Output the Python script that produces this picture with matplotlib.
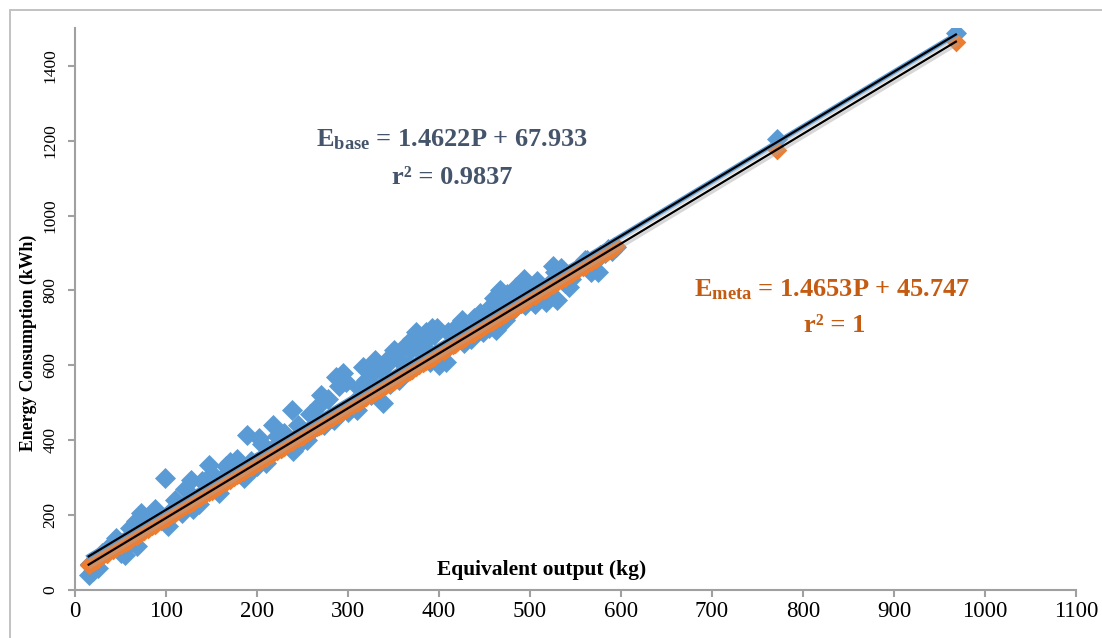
import matplotlib
matplotlib.use("Agg")
import matplotlib.pyplot as plt
import matplotlib.patheffects as pe
from matplotlib.patches import Rectangle

# ---------------- data ----------------
output_kg = [15, 17, 20, 22, 25, 30, 35, 42, 50, 55, 60, 63, 67, 68, 73, 76, 80, 85, 90, 95,
             99, 102, 106, 112, 118, 121, 125, 128, 132, 136, 140, 143, 147, 150, 155, 158, 162, 166, 170, 175,
             180, 186, 189, 193, 197, 202, 206, 210, 215, 218, 222, 226, 230, 234, 238, 240, 245, 250, 255, 258,
             262, 266, 270, 274, 278, 282, 287, 290, 295, 300, 305, 310, 316, 320, 325, 330, 335, 338, 342, 346,
             350, 354, 358, 362, 366, 370, 375, 378, 382, 386, 390, 394, 398, 400, 405, 410, 415, 420, 425, 430,
             435, 440, 445, 450, 455, 460, 463, 467, 470, 475, 480, 485, 490, 493, 497, 500, 505, 510, 515, 520,
             525, 530, 534, 538, 543, 548, 553, 558, 563, 567, 572, 577, 582, 586, 590, 595,
             45, 58, 88, 110, 130, 152, 178, 200, 228, 248, 268, 285, 298, 312, 328, 345, 356, 368,
             384, 392, 408, 418, 428, 438, 448, 458, 472, 482, 495, 508, 518, 528, 545, 560, 575, 592,
             771, 968]

energy_base = [40, 70, 50, 62, 58, 100, 110, 125, 100, 93, 165, 140, 185, 118, 205, 195, 170, 185, 195, 190,
               298, 170, 210, 225, 205, 270, 230, 295, 240, 230, 290, 260, 335, 310, 275, 260, 300, 330, 342, 310,
               320, 300, 415, 345, 325, 405, 390, 340, 375, 440, 410, 380, 420, 395, 480, 370, 440, 425, 400, 470,
               430, 455, 520, 440, 510, 460, 570, 545, 580, 475, 500, 480, 595, 560, 520, 615, 590, 498, 600, 550,
               640, 620, 580, 650, 600, 670, 690, 640, 660, 690, 610, 680, 700, 600, 640, 690, 660, 700, 720, 680,
               670, 700, 740, 720, 700, 780, 695, 800, 760, 790, 745, 810, 770, 830, 800, 780, 765, 800, 790, 815,
               865, 775, 860, 820, 810, 850, 860, 870, 880, 850, 880, 895, 900, 910, 905, 915,
               140, 120, 215, 240, 215, 300, 350, 330, 400, 395, 495, 455, 555, 540, 580, 620, 560, 640,
               650, 700, 610, 700, 660, 725, 690, 760, 720, 800, 760, 825, 770, 850, 830, 880, 850, 915,
               1205, 1487]

energy_meta = [67.7, 70.7, 75.1, 78.0, 82.4, 89.7, 97.0, 107.3, 119.0, 126.3, 133.7, 138.1, 143.9, 145.4, 152.7,
               157.1, 163.0, 170.3, 177.6, 185.0, 190.8, 195.2, 201.1, 209.9, 218.7, 223.0, 228.9, 233.3, 239.2,
               245.0, 250.9, 255.3, 261.1, 265.5, 272.9, 277.3, 283.1, 289.0, 294.9, 302.2, 309.5, 318.3, 322.7,
               328.6, 334.4, 341.7, 347.6, 353.5, 360.8, 365.2, 371.0, 376.9, 382.8, 388.6, 394.5, 397.4, 404.7,
               412.1, 419.4, 423.8, 429.7, 435.5, 441.4, 447.2, 453.1, 459.0, 466.3, 470.7, 478.0, 485.3, 492.7,
               500.0, 508.8, 514.6, 522.0, 529.3, 536.6, 541.0, 546.9, 552.7, 558.6, 564.5, 570.3, 576.2, 582.0,
               587.9, 595.2, 599.6, 605.5, 611.4, 617.2, 623.1, 628.9, 631.9, 639.2, 646.5, 653.8, 661.2, 668.5,
               675.8, 683.2, 690.5, 697.8, 705.1, 712.5, 719.8, 724.2, 730.0, 734.4, 741.8, 749.1, 756.4, 763.7,
               768.1, 774.0, 778.4, 785.7, 793.1, 800.4, 807.7, 815.0, 822.4, 828.2, 834.1, 841.4, 848.7, 856.1,
               863.4, 870.7, 876.6, 883.9, 891.2, 898.6, 904.4, 910.3, 917.6,
               111.7, 130.7, 174.7, 206.9, 236.2, 268.5, 306.6, 338.8, 379.8, 409.1, 438.4, 463.4, 482.4, 502.9,
               526.4, 551.3, 567.4, 585.0, 608.4, 620.1, 643.6, 658.2, 672.9, 687.5, 702.2, 716.9, 737.4, 752.0,
               771.1, 790.1, 804.8, 819.4, 844.3, 866.3, 888.3, 913.2,
               1175.5, 1464.2]

# trendline coefficients (as printed on the chart)
base_slope, base_intercept = 1.4622, 67.933
meta_slope, meta_intercept = 1.4653, 45.747

x_ticks = [0, 100, 200, 300, 400, 500, 600, 700, 800, 900, 1000, 1100]
y_ticks = [0, 200, 400, 600, 800, 1000, 1200, 1400]

# ---------------- style ----------------
plt.rcParams['font.family'] = ['Liberation Serif', 'DejaVu Serif']
plt.rcParams['mathtext.fontset'] = 'custom'
plt.rcParams['mathtext.rm'] = 'Liberation Serif'
plt.rcParams['mathtext.bf'] = 'Liberation Serif:bold'

BLUE = '#5B9BD5'
ORANGE = '#ED7D31'
AX_GRAY = '#A0A0A0'
BASE_TXT = '#44546A'
META_TXT = '#C55A11'

fig = plt.figure(figsize=(11.02, 6.38), dpi=100)
AX_L, AX_R, AX_B, AX_T = 75, 1076, 590, 28.25
ax = fig.add_axes([AX_L/1102, 1-AX_B/638, (AX_R-AX_L)/1102, (AX_B-AX_T)/638])

# outer chart-area border
fig.patches.append(Rectangle((10/1102, -0.1), 1.2, 1-10/638+0.1, transform=fig.transFigure,
                             fill=False, edgecolor='#BDBDBD', linewidth=1.3, zorder=0))

ax.scatter(output_kg, energy_base, marker='D', s=115, color=BLUE, linewidths=0, zorder=2)
ax.scatter(output_kg, energy_meta, marker='D', s=100, color=ORANGE, linewidths=0, zorder=3)

xmin, xmax = min(output_kg), max(output_kg)
bx = [xmin, xmax]
by = [base_slope * v + base_intercept for v in bx]
my = [meta_slope * v + meta_intercept for v in bx]

shadow = [pe.SimpleLineShadow(offset=(1.2, -1.8), shadow_color='#A8A8A8', alpha=0.45, linewidth=2.2),
          pe.Normal()]
ax.plot(bx, by, color=BLUE, linewidth=3.5, zorder=4, path_effects=shadow)
ax.plot(bx, by, color='black', linewidth=1.6, zorder=5)
ax.plot(bx, my, color='black', linewidth=1.6, zorder=5, path_effects=shadow)

ax.set_xlim(0, 1100)
ax.set_ylim(0, 1500)
ax.set_xticks(x_ticks)
ax.set_yticks(y_ticks)
ax.set_xticklabels([str(t) for t in x_ticks], fontsize=16.5)
ax.set_yticklabels([str(t) for t in y_ticks], fontsize=12.5, rotation=90, va='center')

for s in ['top', 'right']:
    ax.spines[s].set_visible(False)
for s in ['left', 'bottom']:
    ax.spines[s].set_color(AX_GRAY)
    ax.spines[s].set_linewidth(1.5)
ax.tick_params(axis='both', direction='out', color=AX_GRAY, width=1.5, length=5)
ax.tick_params(axis='y', pad=7)
ax.tick_params(axis='x', pad=3)

axw, axh = AX_R - AX_L, AX_B - AX_T
ax.set_xlabel('Equivalent output (kg)', fontsize=15.5, fontweight='bold')
ax.xaxis.set_label_coords((542 - AX_L) / axw, (AX_B - 570) / axh)
ax.xaxis.label.set_verticalalignment('center')
ax.set_ylabel('Energy Consumption (kWh)', fontsize=12.8, fontweight='bold')
ax.yaxis.set_label_coords(-(AX_L - 28) / axw, (AX_B - 343) / axh)
ax.yaxis.label.set_verticalalignment('center')

fig.text(452/1102, 1-140/638, r'$\mathbf{E_{base}}$ = 1.4622P + 67.933', color=BASE_TXT,
         fontsize=19, fontweight='bold', ha='center', va='center')
fig.text(452/1102, 1-177/638, 'r² = 0.9837', color=BASE_TXT,
         fontsize=19, fontweight='bold', ha='center', va='center')
fig.text(832/1102, 1-290/638, r'$\mathbf{E_{meta}}$ = 1.4653P + 45.747', color=META_TXT,
         fontsize=19, fontweight='bold', ha='center', va='center')
fig.text(835/1102, 1-325/638, 'r² = 1', color=META_TXT,
         fontsize=19, fontweight='bold', ha='center', va='center')

fig.savefig('out.png', dpi=100)
